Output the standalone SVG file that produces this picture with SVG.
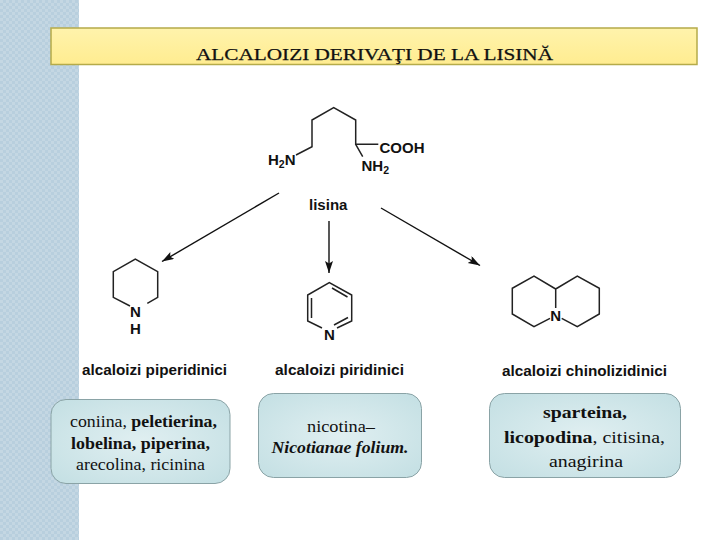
<svg xmlns="http://www.w3.org/2000/svg" width="720" height="540" viewBox="0 0 720 540">
<style>
.bond{fill:none;stroke:#222;stroke-width:1.500}
.arrow{fill:none;stroke:#111;stroke-width:1.400;marker-end:url(#ah)}
.chem{font-family:"Liberation Sans",Arial,sans-serif;font-weight:bold;fill:#111}
.atom{font-size:15px}
.sub{font-size:10.500px}
.cls{font-size:14.500px}
.box{fill:url(#boxg);stroke:#8aa3a6;stroke-width:1}
.t{font-family:"Liberation Serif","Times New Roman",serif;font-size:17.500px;fill:#111;text-anchor:middle}
.b{font-weight:bold}
</style>
<defs>
<pattern id="dots" width="6" height="6" patternUnits="userSpaceOnUse">
<rect width="6" height="6" fill="#b8cfde"/>
<rect width="3" height="3" fill="#c4d7e3"/>
<rect x="3" y="3" width="3" height="3" fill="#c4d7e3"/>
</pattern>
<radialGradient id="boxg" cx="50%" cy="50%" r="70%">
<stop offset="0" stop-color="#e0eff1"/>
<stop offset="1" stop-color="#c3dfe3"/>
</radialGradient>
<linearGradient id="ttl" x1="0" x2="0" y1="0" y2="1">
<stop offset="0" stop-color="#fff3ac"/>
<stop offset="1" stop-color="#ffec90"/>
</linearGradient>
<marker id="ah" markerWidth="13" markerHeight="10" refX="12" refY="4" orient="auto" markerUnits="userSpaceOnUse">
<path d="M0,0 L12,4 L0,8 L2.500,4 Z" fill="#111"/>
</marker>
</defs>
<rect id="background" width="720" height="540" fill="#fff"/>
<rect id="side-band" width="79" height="540" fill="url(#dots)"/>
<g id="title">
<rect x="51" y="28" width="646" height="36.500" fill="url(#ttl)" stroke="#b5ab4a" stroke-width="1.500"/>
<text class="t" x="374.500" y="59.500" textLength="357" lengthAdjust="spacingAndGlyphs" stroke="#111" stroke-width="0.250">ALCALOIZI DERIVAŢI DE LA LISINĂ</text>
</g>
<g id="connectors">
<path class="arrow" d="M279,193 L162,261.500"/>
<path class="arrow" d="M329,221 L329,273"/>
<path class="arrow" d="M381,208 L480,265.500"/>
</g>
<g id="lisina">
<path class="bond" d="M296,155 L312,146.700 L312,120 L333.700,107.700 L355.700,120 L355.700,144.300 L378.300,144.300 M355.700,144.300 L362.700,156.700"/>
<text class="chem atom" x="268" y="164.500">H<tspan class="sub" dy="3">2</tspan><tspan dy="-3">N</tspan></text>
<text class="chem atom" x="379.500" y="152.500" textLength="45" lengthAdjust="spacingAndGlyphs">COOH</text>
<text class="chem atom" x="361.500" y="170.500">NH<tspan class="sub" dy="3">2</tspan></text>
<text class="chem" font-size="14.500" x="309" y="209.500" textLength="38.500" lengthAdjust="spacingAndGlyphs">lisina</text>
</g>
<g id="piperidine">
<path class="bond" d="M130,306 L113.300,297.300 L113.300,271.700 L135.300,259 L157.700,271.700 L157.700,297.300 L147.300,303.300"/>
<text class="chem atom" x="135.500" y="316.500" text-anchor="middle">N</text>
<text class="chem atom" x="135.500" y="333.500" text-anchor="middle">H</text>
<text class="chem cls" x="82" y="375" textLength="145" lengthAdjust="spacingAndGlyphs">alcaloizi piperidinici</text>
</g>
<g id="pyridine">
<path class="bond" d="M322,328 L307.700,321 L307.700,295 L329.300,282.700 L351.700,295 L351.700,321 L337,328 M311.500,318 L311.500,298 M332,288 L347.500,297 M348,317.500 L334,325"/>
<text class="chem atom" x="329.500" y="340" text-anchor="middle">N</text>
<text class="chem cls" x="275" y="375" textLength="129" lengthAdjust="spacingAndGlyphs">alcaloizi piridinici</text>
</g>
<g id="quinolizidine">
<path class="bond" d="M555.700,289 L534,276 L512.300,288.300 L512.300,314 L534,326.700 L550,318.300 M555.700,289 L577.300,276 L599.300,288.300 L599.300,314 L577.300,326.700 L561.700,318.300 M555.700,289 L555.700,308"/>
<text class="chem atom" x="555.700" y="320.500" text-anchor="middle">N</text>
<text class="chem cls" x="502" y="376" textLength="165" lengthAdjust="spacingAndGlyphs">alcaloizi chinolizidinici</text>
</g>
<g id="box-piperidine">
<rect class="box" x="51" y="399.500" width="179" height="84" rx="15"/>
<text class="t" x="143.500" y="427" textLength="147" lengthAdjust="spacingAndGlyphs">coniina, <tspan class="b">peletierina,</tspan></text>
<text class="t" x="140.500" y="448.500" textLength="139" lengthAdjust="spacingAndGlyphs"><tspan class="b">lobelina, piperina,</tspan></text>
<text class="t" x="140.500" y="470" textLength="129" lengthAdjust="spacingAndGlyphs">arecolina, ricinina</text>
</g>
<g id="box-pyridine">
<rect class="box" x="258.500" y="393.500" width="163" height="84" rx="15"/>
<text class="t" x="341" y="432" textLength="68" lengthAdjust="spacingAndGlyphs">nicotina–</text>
<text class="t b" font-style="italic" x="340" y="453" textLength="137" lengthAdjust="spacingAndGlyphs">Nicotianae folium.</text>
</g>
<g id="box-quinolizidine">
<rect class="box" x="489.500" y="393.500" width="191" height="84" rx="15"/>
<text class="t" x="585" y="418" textLength="84" lengthAdjust="spacingAndGlyphs"><tspan class="b">sparteina,</tspan></text>
<text class="t" x="584.500" y="443" textLength="161" lengthAdjust="spacingAndGlyphs"><tspan class="b">licopodina</tspan>, citisina,</text>
<text class="t" x="586" y="467" textLength="74" lengthAdjust="spacingAndGlyphs">anagirina</text>
</g>
</svg>
